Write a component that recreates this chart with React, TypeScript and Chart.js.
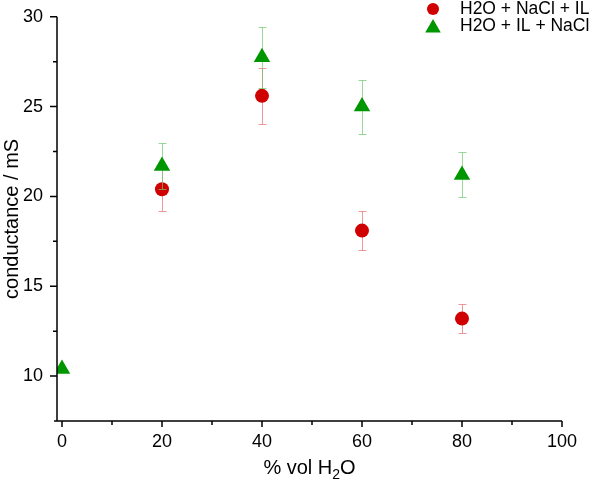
import React, { useEffect, useRef } from 'react';
import { Chart, registerables } from 'chart.js';

Chart.register(...registerables);

// ---- data ----
const seriesLabels = ['H2O + NaCl + IL', 'H2O + IL + NaCl'];
const redX = [20, 40, 60, 80];
const redY = [20.4, 25.6, 18.1, 13.2];
const redErr = [1.2, 1.55, 1.1, 0.8];
const greenX = [0, 20, 40, 60, 80];
const greenY = [10.4, 21.7, 27.75, 25.0, 21.2];
const greenErr = [0, 1.3, 1.7, 1.5, 1.25];
const xMajorTicks = [0, 20, 40, 60, 80, 100];
const xMinorTicks = [10, 30, 50, 70, 90];
const yMajorTicks = [10, 15, 20, 25, 30];
const yMinorTicks = [12.5, 17.5, 22.5, 27.5];
const yTitle = 'conductance / mS';
const xTitleParts = ['% vol H', '2', 'O'];

const FONT = "'Liberation Sans', Arial, sans-serif";
const RED = '#d00000';
const GREEN = '#009600';
const RED_ERR = 'rgba(230,110,110,0.7)';
const GREEN_ERR = 'rgba(110,200,110,0.7)';

const errorBarPlugin = {
  id: 'errorBars',
  beforeDatasetDraw(chart: any, args: any) {
    const ds: any = chart.data.datasets[args.index];
    const errs: number[] = ds.errors || [];
    const ys = chart.scales.y;
    const ctx = chart.ctx;
    ctx.save();
    ctx.strokeStyle = ds.errorColor;
    ctx.lineWidth = 1;
    args.meta.data.forEach((el: any, i: number) => {
      const e = errs[i];
      if (!e) return;
      const v = ds.data[i].y;
      const x = Math.round(el.x) + 0.5;
      const yt = Math.round(ys.getPixelForValue(v + e)) + 0.5;
      const yb = Math.round(ys.getPixelForValue(v - e)) + 0.5;
      ctx.beginPath();
      ctx.moveTo(x, yt);
      ctx.lineTo(x, yb);
      ctx.moveTo(x - 4, yt);
      ctx.lineTo(x + 4, yt);
      ctx.moveTo(x - 4, yb);
      ctx.lineTo(x + 4, yb);
      ctx.stroke();
    });
    ctx.restore();
  },
};

const axesPlugin = {
  id: 'axesDecor',
  afterDraw(chart: any) {
    const ctx = chart.ctx;
    const { left, right, top, bottom } = chart.chartArea;
    const xs = chart.scales.x;
    const ys = chart.scales.y;
    ctx.save();
    ctx.strokeStyle = '#000';
    ctx.lineWidth = 1.5;
    ctx.beginPath();
    ctx.moveTo(left, top);
    ctx.lineTo(left, bottom);
    ctx.moveTo(left - 3, bottom);
    ctx.lineTo(right, bottom);
    yMajorTicks.forEach((v) => {
      const y = ys.getPixelForValue(v);
      ctx.moveTo(left - 7, y);
      ctx.lineTo(left, y);
    });
    yMinorTicks.forEach((v) => {
      const y = ys.getPixelForValue(v);
      ctx.moveTo(left - 4, y);
      ctx.lineTo(left, y);
    });
    xMajorTicks.forEach((v) => {
      const x = xs.getPixelForValue(v);
      ctx.moveTo(x, bottom);
      ctx.lineTo(x, bottom + 6);
    });
    xMinorTicks.forEach((v) => {
      const x = xs.getPixelForValue(v);
      ctx.moveTo(x, bottom);
      ctx.lineTo(x, bottom + 4);
    });
    ctx.stroke();

    // y title
    ctx.fillStyle = '#000';
    ctx.font = `20px ${FONT}`;
    ctx.save();
    ctx.translate(17.5, (top + bottom) / 2);
    ctx.rotate(-Math.PI / 2);
    ctx.textAlign = 'center';
    ctx.textBaseline = 'alphabetic';
    ctx.fillText(yTitle, 0, 0);
    ctx.restore();

    // x title with subscript
    const bigFont = `20px ${FONT}`;
    const smallFont = `14px ${FONT}`;
    ctx.font = bigFont;
    const w0 = ctx.measureText(xTitleParts[0]).width;
    const w2 = ctx.measureText(xTitleParts[2]).width;
    ctx.font = smallFont;
    const w1 = ctx.measureText(xTitleParts[1]).width;
    const total = w0 + w1 + w2;
    let cx = (left + right) / 2 - total / 2;
    const base = 474;
    ctx.textAlign = 'left';
    ctx.textBaseline = 'alphabetic';
    ctx.font = bigFont;
    ctx.fillText(xTitleParts[0], cx, base);
    cx += w0;
    ctx.font = smallFont;
    ctx.fillText(xTitleParts[1], cx, base + 5);
    cx += w1;
    ctx.font = bigFont;
    ctx.fillText(xTitleParts[2], cx, base);

    // legend
    const lx = 433;
    const tx = 460;
    const r1 = 9;
    const r2 = 26;
    ctx.fillStyle = RED;
    ctx.beginPath();
    ctx.arc(lx, r1, 6, 0, Math.PI * 2);
    ctx.fill();
    ctx.fillStyle = GREEN;
    const tr = 9;
    const tcy = r2 + 2;
    ctx.beginPath();
    ctx.moveTo(lx, tcy - tr);
    ctx.lineTo(lx + tr * 0.866, tcy + tr / 2);
    ctx.lineTo(lx - tr * 0.866, tcy + tr / 2);
    ctx.closePath();
    ctx.fill();
    ctx.fillStyle = '#000';
    ctx.font = `17.5px ${FONT}`;
    ctx.textBaseline = 'middle';
    ctx.fillText(seriesLabels[0], tx, r1);
    ctx.fillText(seriesLabels[1], tx, r2);
    ctx.restore();
  },
};

export default function App() {
  const ref = useRef<HTMLCanvasElement | null>(null);
  useEffect(() => {
    if (!ref.current) return;
    const chart = new Chart(ref.current, {
      type: 'scatter',
      data: {
        datasets: [
          {
            label: seriesLabels[1],
            data: greenX.map((x, i) => ({ x, y: greenY[i] })),
            pointStyle: 'triangle',
            pointRadius: 9.5,
            pointHoverRadius: 9.5,
            backgroundColor: GREEN,
            borderColor: GREEN,
            pointBorderWidth: 0,
            showLine: false,
            order: 0,
            errors: greenErr,
            errorColor: GREEN_ERR,
          } as any,
          {
            label: seriesLabels[0],
            data: redX.map((x, i) => ({ x, y: redY[i] })),
            pointStyle: 'circle',
            pointRadius: 7,
            pointHoverRadius: 7,
            backgroundColor: RED,
            borderColor: RED,
            pointBorderWidth: 0,
            showLine: false,
            order: 1,
            errors: redErr,
            errorColor: RED_ERR,
          } as any,
        ],
      },
      options: {
        responsive: false,
        animation: false,
        devicePixelRatio: 1,
        layout: { padding: { top: 14, right: 38, left: 0, bottom: 0 } },
        plugins: {
          legend: { display: false },
          tooltip: { enabled: false },
        },
        scales: {
          x: {
            type: 'linear',
            min: -1,
            max: 100,
            grid: { display: false },
            border: { display: false },
            afterBuildTicks: (s: any) => {
              s.ticks = xMajorTicks.map((v) => ({ value: v }));
            },
            afterFit: (s: any) => {
              s.height = 65;
            },
            ticks: {
              color: '#000',
              font: { family: FONT, size: 18 },
              padding: 2,
              maxRotation: 0,
              autoSkip: false,
            },
          },
          y: {
            type: 'linear',
            min: 7.5,
            max: 30,
            grid: { display: false },
            border: { display: false },
            afterBuildTicks: (s: any) => {
              s.ticks = yMajorTicks.map((v) => ({ value: v }));
            },
            afterFit: (s: any) => {
              s.width = 57;
            },
            ticks: {
              color: '#000',
              font: { family: FONT, size: 18 },
              padding: 6,
              autoSkip: false,
            },
          },
        },
      } as any,
      plugins: [errorBarPlugin, axesPlugin],
    });
    return () => chart.destroy();
  }, []);
  return (
    <div style={{ position: 'fixed', left: 0, top: 0, width: 600, height: 486, background: '#fff' }}>
      <canvas ref={ref} width={600} height={486} />
    </div>
  );
}
